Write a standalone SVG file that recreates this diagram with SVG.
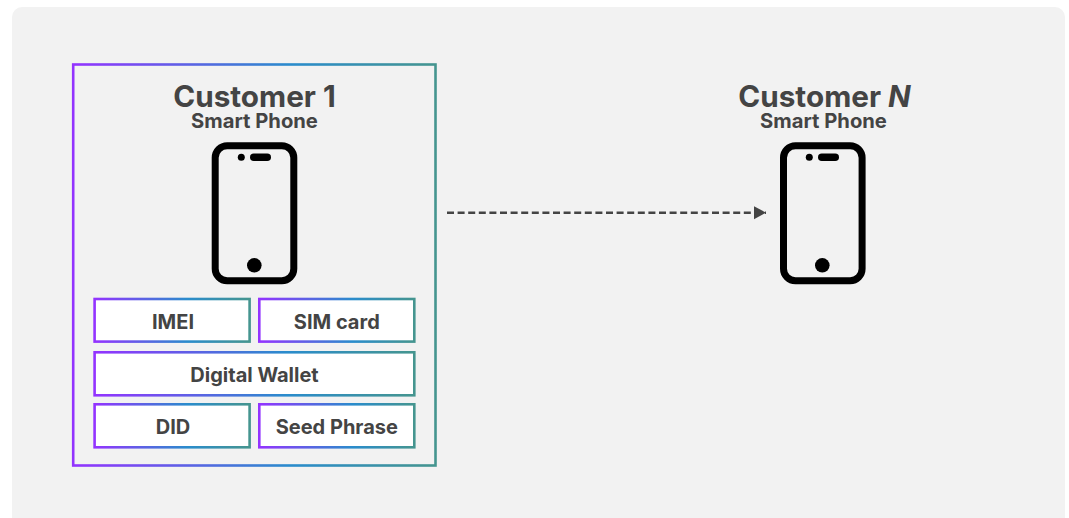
<svg xmlns="http://www.w3.org/2000/svg" width="1069" height="518" viewBox="0 0 1069 518">
<style>
text{font-family:"Inter","Liberation Sans",sans-serif;font-weight:700;fill:#444;text-anchor:middle}
.h{font-size:29.7px}
.s{font-size:20.2px}
.l{font-size:20px}
.b{fill:#fff;stroke:url(#g);stroke-width:2.6}
.p{fill:none;stroke:#000;stroke-width:7}
</style>
<defs>
<linearGradient id="g" x1="0" y1="0" x2="1" y2="0">
<stop offset="0" stop-color="#9333ff"/>
<stop offset="0.6" stop-color="#2a8ccc"/>
<stop offset="1" stop-color="#45958f"/>
</linearGradient>
<marker id="a" markerUnits="userSpaceOnUse" markerWidth="12" markerHeight="14" refX="12" refY="7" orient="auto">
<path d="M0 0.5L12 7L0 13.5Z" fill="#444"/>
</marker>
</defs>
<rect x="12" y="7" width="1053" height="530" rx="10" fill="#f2f2f2"/>
<g id="connectors">
<path d="M447 212.7H766" fill="none" stroke="#444" stroke-width="2.5" stroke-dasharray="7 3.6" marker-end="url(#a)"/>
</g>
<g id="customer-1">
<rect x="73.2" y="64.5" width="362.3" height="401" fill="none" stroke="url(#g)" stroke-width="2.6"/>
<text class="h" x="254.5" y="107">Customer 1</text>
<text class="s" x="254.5" y="128.4">Smart Phone</text>
<g id="phone-1">
<rect class="p" x="215.2" y="145.8" width="78.6" height="135" rx="12"/>
<circle cx="241.3" cy="157.3" r="3.5"/>
<rect x="250" y="153.6" width="21" height="7.5" rx="3.75"/>
<circle cx="254.3" cy="265.3" r="7.3"/>
</g>
</g>
<g id="imei"><rect class="b" x="94.6" y="299" width="155" height="42.6"/><text class="l" x="173" y="328.5">IMEI</text></g>
<g id="sim-card"><rect class="b" x="259.3" y="299" width="155" height="42.6"/><text class="l" x="336.8" y="328.5">SIM card</text></g>
<g id="digital-wallet"><rect class="b" x="94.6" y="352.3" width="319.7" height="43"/><text class="l" x="254.5" y="382">Digital Wallet</text></g>
<g id="did"><rect class="b" x="94.6" y="404.3" width="155" height="43"/><text class="l" x="173" y="434">DID</text></g>
<g id="seed-phrase"><rect class="b" x="259.3" y="404.3" width="155" height="43"/><text class="l" x="336.8" y="434">Seed Phrase</text></g>
<g id="customer-n">
<text class="h" x="824.5" y="107">Customer <tspan font-style="italic">N</tspan></text>
<text class="s" x="823.5" y="128.4">Smart Phone</text>
<g id="phone-n">
<rect class="p" x="783.5" y="145.8" width="78.6" height="135" rx="12"/>
<circle cx="809.3" cy="157.3" r="3.5"/>
<rect x="818" y="153.6" width="21" height="7.5" rx="3.75"/>
<circle cx="822.3" cy="265.3" r="7.3"/>
</g>
</g>
</svg>
